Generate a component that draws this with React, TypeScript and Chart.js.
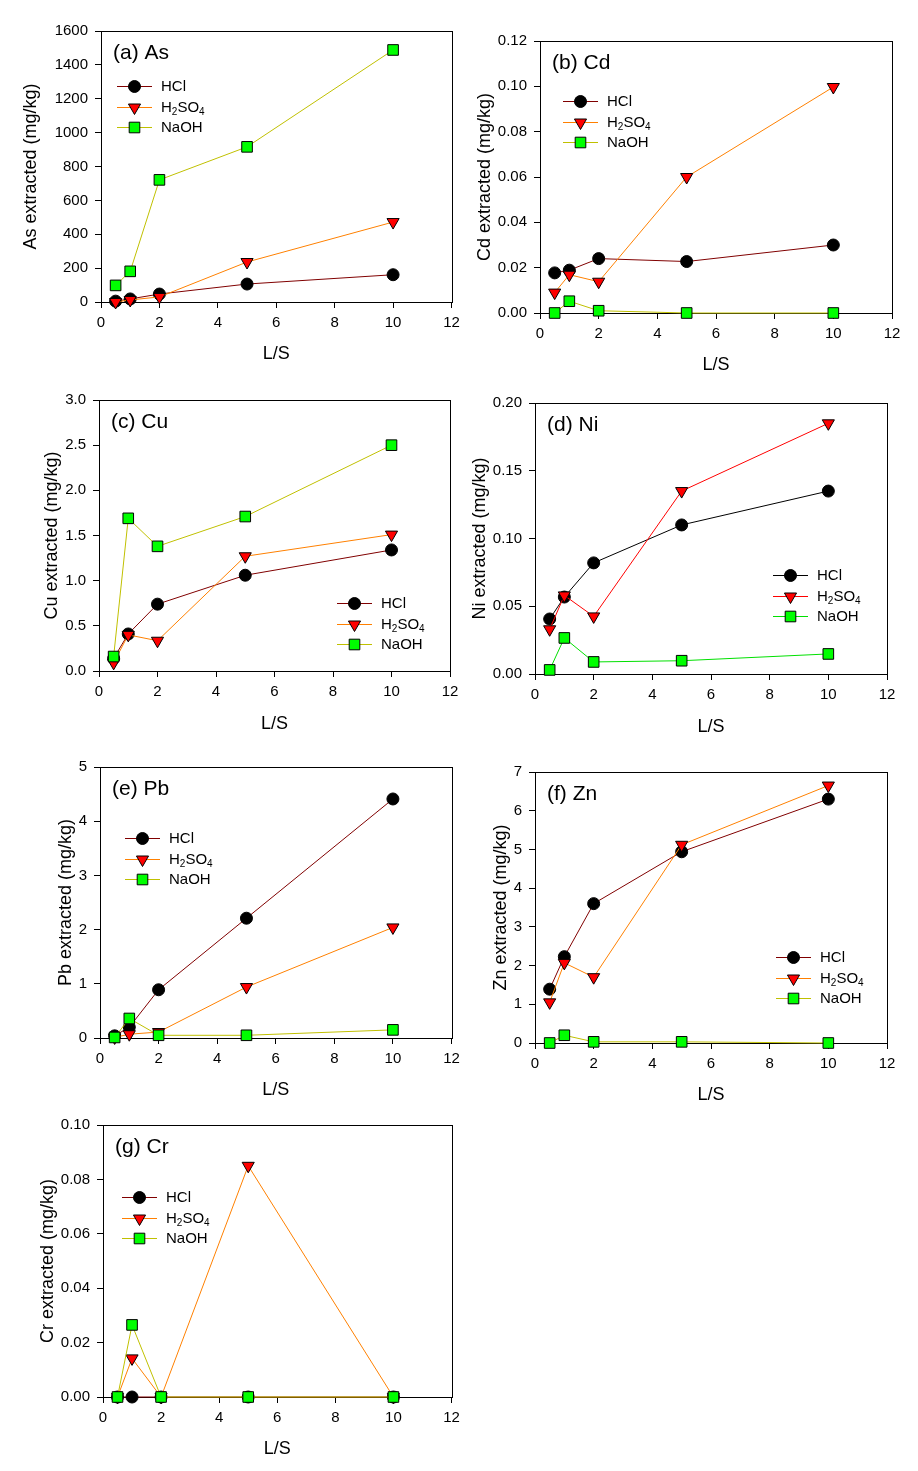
import React, { useEffect, useRef } from "react";
import { Chart, registerables } from "chart.js";

Chart.register(...registerables);

const FONT = "'Liberation Sans', Arial, Helvetica, sans-serif";

// ---------- data ----------
const LS = [0.5, 1, 2, 5, 10];
const X_TICKS = ["0", "2", "4", "6", "8", "10", "12"];
const SERIES_NAMES = ["HCl", "H2SO4", "NaOH"];

const AS_HCL = [5, 18, 47, 106, 161];
const AS_H2SO4 = [0, 12, 30, 236, 472];
const AS_NAOH = [98, 181, 721, 916, 1488];
const AS_Y_TICKS = ["0", "200", "400", "600", "800", "1000", "1200", "1400", "1600"];

const CD_HCL = [0.0177, 0.0189, 0.024, 0.0227, 0.03];
const CD_H2SO4 = [0.009, 0.0169, 0.0138, 0.06, 0.0997];
const CD_NAOH = [0, 0.0052, 0.001, 0, 0];
const CD_Y_TICKS = ["0.00", "0.02", "0.04", "0.06", "0.08", "0.10", "0.12"];

const CU_HCL = [0.14, 0.41, 0.74, 1.06, 1.34];
const CU_H2SO4 = [0.09, 0.4, 0.335, 1.27, 1.51];
const CU_NAOH = [0.16, 1.69, 1.38, 1.71, 2.5];
const CU_Y_TICKS = ["0.0", "0.5", "1.0", "1.5", "2.0", "2.5", "3.0"];

const NI_HCL = [0.0406, 0.0568, 0.082, 0.11, 0.135];
const NI_H2SO4 = [0.033, 0.058, 0.0425, 0.135, 0.185];
const NI_NAOH = [0.003, 0.0266, 0.0089, 0.0098, 0.0148];
const NI_Y_TICKS = ["0.00", "0.05", "0.10", "0.15", "0.20"];

const PB_HCL = [0.04, 0.2, 0.89, 2.21, 4.41];
const PB_H2SO4 = [0.01, 0.07, 0.11, 0.94, 2.04];
const PB_NAOH = [0.01, 0.36, 0.05, 0.05, 0.15];
const PB_Y_TICKS = ["0", "1", "2", "3", "4", "5"];

const ZN_HCL = [1.39, 2.23, 3.6, 4.94, 6.3];
const ZN_H2SO4 = [1.05, 2.07, 1.7, 5.12, 6.65];
const ZN_NAOH = [0, 0.2, 0.03, 0.03, 0];
const ZN_Y_TICKS = ["0", "1", "2", "3", "4", "5", "6", "7"];

const CR_HCL = [0, 0, 0, 0, 0];
const CR_H2SO4 = [0, 0.0142, 0, 0.085, 0];
const CR_NAOH = [0, 0.0265, 0, 0, 0];
const CR_Y_TICKS = ["0.00", "0.02", "0.04", "0.06", "0.08", "0.10"];

// ---------- styling ----------
const LINES_STD = ["#800000", "#ff8000", "#c0c000"];
const LINES_NI = ["#000000", "#ff0000", "#00e000"];
const MARKER_FILL = ["#000000", "#ff0000", "#00ff00"];

type PanelCfg = {
  title: string;
  yTitle: string;
  yTicks: string[];
  series: number[][];
  lines: string[];
  canvas: [number, number, number, number];
  area: [number, number, number, number];
  yTitleX: number;
  xTitleY: number;
  legend: [number, number];
};

const PANELS: PanelCfg[] = [
  {
    title: "(a) As", yTitle: "As extracted (mg/kg)", yTicks: AS_Y_TICKS,
    series: [AS_HCL, AS_H2SO4, AS_NAOH], lines: LINES_STD,
    canvas: [0, 0, 460, 380], area: [101, 31, 453, 302], yTitleX: 31, xTitleY: 354, legend: [117, 86],
  },
  {
    title: "(b) Cd", yTitle: "Cd extracted (mg/kg)", yTicks: CD_Y_TICKS,
    series: [CD_HCL, CD_H2SO4, CD_NAOH], lines: LINES_STD,
    canvas: [460, 0, 458, 380], area: [540, 41, 892, 313], yTitleX: 485, xTitleY: 365, legend: [563, 101],
  },
  {
    title: "(c) Cu", yTitle: "Cu extracted (mg/kg)", yTicks: CU_Y_TICKS,
    series: [CU_HCL, CU_H2SO4, CU_NAOH], lines: LINES_STD,
    canvas: [0, 380, 460, 370], area: [99, 400, 450, 671], yTitleX: 52, xTitleY: 724, legend: [337, 603],
  },
  {
    title: "(d) Ni", yTitle: "Ni extracted (mg/kg)", yTicks: NI_Y_TICKS,
    series: [NI_HCL, NI_H2SO4, NI_NAOH], lines: LINES_NI,
    canvas: [460, 380, 458, 370], area: [535, 403, 887, 674], yTitleX: 480, xTitleY: 727, legend: [773, 575],
  },
  {
    title: "(e) Pb", yTitle: "Pb extracted (mg/kg)", yTicks: PB_Y_TICKS,
    series: [PB_HCL, PB_H2SO4, PB_NAOH], lines: LINES_STD,
    canvas: [0, 750, 460, 360], area: [100, 767, 452, 1038], yTitleX: 66, xTitleY: 1090, legend: [125, 838],
  },
  {
    title: "(f) Zn", yTitle: "Zn extracted (mg/kg)", yTicks: ZN_Y_TICKS,
    series: [ZN_HCL, ZN_H2SO4, ZN_NAOH], lines: LINES_STD,
    canvas: [460, 750, 458, 360], area: [535, 772, 887, 1043], yTitleX: 501, xTitleY: 1095, legend: [776, 957],
  },
  {
    title: "(g) Cr", yTitle: "Cr extracted (mg/kg)", yTicks: CR_Y_TICKS,
    series: [CR_HCL, CR_H2SO4, CR_NAOH], lines: LINES_STD,
    canvas: [0, 1110, 460, 361], area: [103, 1125, 454, 1397], yTitleX: 48, xTitleY: 1449, legend: [122, 1197],
  },
];

function drawMarker(ctx: CanvasRenderingContext2D, kind: number, x: number, y: number) {
  ctx.save();
  ctx.lineWidth = 1;
  ctx.strokeStyle = "#000";
  ctx.fillStyle = MARKER_FILL[kind];
  ctx.beginPath();
  if (kind === 0) {
    ctx.arc(x, y, 6, 0, Math.PI * 2);
  } else if (kind === 1) {
    const r = 7;
    const s = r * Math.sin(Math.PI / 3);
    ctx.moveTo(x, y + r);
    ctx.lineTo(x - s, y - r / 2);
    ctx.lineTo(x + s, y - r / 2);
    ctx.closePath();
  } else {
    const h = 5.3;
    ctx.rect(x - h, y - h, 2 * h, 2 * h);
  }
  ctx.fill();
  ctx.stroke();
  ctx.restore();
}

function drawLabel(ctx: CanvasRenderingContext2D, name: string, x: number, y: number) {
  ctx.fillStyle = "#000";
  ctx.textBaseline = "middle";
  ctx.textAlign = "left";
  if (name !== "H2SO4") {
    ctx.font = `15px ${FONT}`;
    ctx.fillText(name, x, y);
    return;
  }
  const parts: [string, boolean][] = [["H", false], ["2", true], ["SO", false], ["4", true]];
  let cx = x;
  for (const [t, sub] of parts) {
    ctx.font = sub ? `10px ${FONT}` : `15px ${FONT}`;
    ctx.fillText(t, cx, sub ? y + 5 : y);
    cx += ctx.measureText(t).width;
  }
}

function Panel({ cfg }: { cfg: PanelCfg }) {
  const ref = useRef<HTMLCanvasElement | null>(null);
  const [cx, cy, cw, ch] = cfg.canvas;
  const [L, T, R, B] = cfg.area;

  useEffect(() => {
    const canvas = ref.current;
    if (!canvas) return;
    const yMax = parseFloat(cfg.yTicks[cfg.yTicks.length - 1]);
    const orders = [2, 1, 0];
    const styles = [
      { pointStyle: "circle", pointRadius: 6, pointRotation: 0 },
      { pointStyle: "triangle", pointRadius: 7, pointRotation: 180 },
      { pointStyle: "rect", pointRadius: 7.5, pointRotation: 0 },
    ];
    const datasets = cfg.series.map((vals, k) => ({
      label: SERIES_NAMES[k],
      data: LS.map((x, i) => ({ x, y: vals[i] })),
      borderColor: cfg.lines[k],
      borderWidth: 1,
      backgroundColor: MARKER_FILL[k],
      pointBackgroundColor: MARKER_FILL[k],
      pointBorderColor: "#000",
      pointBorderWidth: 1,
      pointHoverRadius: styles[k].pointRadius,
      tension: 0,
      clip: false,
      order: orders[k],
      ...styles[k],
    }));

    const decor = {
      id: "decor",
      beforeDatasetsDraw(chart: any) {
        const a = chart.chartArea;
        const ctx = chart.ctx;
        ctx.save();
        ctx.strokeStyle = "#000";
        ctx.lineWidth = 1;
        ctx.strokeRect(Math.round(a.left) + 0.5, Math.round(a.top) + 0.5, Math.round(a.right - a.left), Math.round(a.bottom - a.top));
        ctx.restore();
      },
      afterDraw(chart: any) {
        const a = chart.chartArea;
        const ctx = chart.ctx;
        ctx.save();
        ctx.fillStyle = "#000";
        ctx.font = `21px ${FONT}`;
        ctx.textBaseline = "middle";
        ctx.textAlign = "left";
        ctx.fillText(cfg.title, a.left + 12, a.top + 22);
        const lx = cfg.legend[0] - cx;
        const ly = cfg.legend[1] - cy;
        for (let k = 0; k < 3; k++) {
          const y = Math.round(ly + k * 20.7) + 0.5;
          ctx.strokeStyle = cfg.lines[k];
          ctx.lineWidth = 1;
          ctx.beginPath();
          ctx.moveTo(lx, y);
          ctx.lineTo(lx + 35, y);
          ctx.stroke();
          drawMarker(ctx, k, lx + 17.5, y);
          drawLabel(ctx, SERIES_NAMES[k], lx + 44, y);
        }
        ctx.restore();
      },
    };

    const lineHalf = 18 * 1.2 / 2;
    const chart = new Chart(canvas, {
      type: "line",
      data: { datasets: datasets as any },
      options: {
        animation: false,
        responsive: false,
        devicePixelRatio: 1,
        events: [],
        layout: { padding: { left: 0, top: T - cy, right: cx + cw - R, bottom: 0 } },
        plugins: { legend: { display: false }, tooltip: { enabled: false } },
        scales: {
          x: {
            type: "linear",
            min: 0,
            max: 12,
            afterBuildTicks: (scale: any) => {
              scale.ticks = X_TICKS.map((t) => ({ value: parseFloat(t) }));
            },
            afterFit: (scale: any) => {
              scale.height = cy + ch - B;
              scale.paddingLeft = 0;
              scale.paddingRight = 0;
            },
            ticks: {
              autoSkip: false,
              maxRotation: 0,
              padding: 6,
              color: "#000",
              font: { family: FONT, size: 15 },
              callback: (_v: any, i: number) => X_TICKS[i],
            },
            grid: { drawOnChartArea: false, drawTicks: true, tickLength: 6, tickColor: "#000", tickWidth: 1, color: "#000" },
            border: { display: false },
            title: {
              display: true,
              text: "L/S",
              color: "#000",
              font: { family: FONT, size: 18 },
              padding: { top: 0, bottom: cy + ch - cfg.xTitleY - lineHalf },
            },
          },
          y: {
            type: "linear",
            min: 0,
            max: yMax,
            afterBuildTicks: (scale: any) => {
              scale.ticks = cfg.yTicks.map((t) => ({ value: parseFloat(t) }));
            },
            afterFit: (scale: any) => {
              scale.width = L - cx;
              scale.paddingTop = 0;
              scale.paddingBottom = 0;
            },
            ticks: {
              autoSkip: false,
              padding: 7,
              color: "#000",
              font: { family: FONT, size: 15 },
              callback: (_v: any, i: number) => cfg.yTicks[i],
            },
            grid: { drawOnChartArea: false, drawTicks: true, tickLength: 6, tickColor: "#000", tickWidth: 1, color: "#000" },
            border: { display: false },
            title: {
              display: true,
              text: cfg.yTitle,
              color: "#000",
              font: { family: FONT, size: 18 },
              padding: { top: cfg.yTitleX - cx - lineHalf, bottom: 0 },
            },
          },
        },
      } as any,
      plugins: [decor],
    });
    return () => chart.destroy();
  }, []);

  return (
    <canvas
      ref={ref}
      width={cw}
      height={ch}
      style={{ position: "absolute", left: cx, top: cy, width: cw, height: ch }}
    />
  );
}

export default function App() {
  return (
    <div style={{ position: "absolute", left: 0, top: 0, width: 918, height: 1471, background: "#fff" }}>
      {PANELS.map((p) => (
        <Panel key={p.title} cfg={p} />
      ))}
    </div>
  );
}
